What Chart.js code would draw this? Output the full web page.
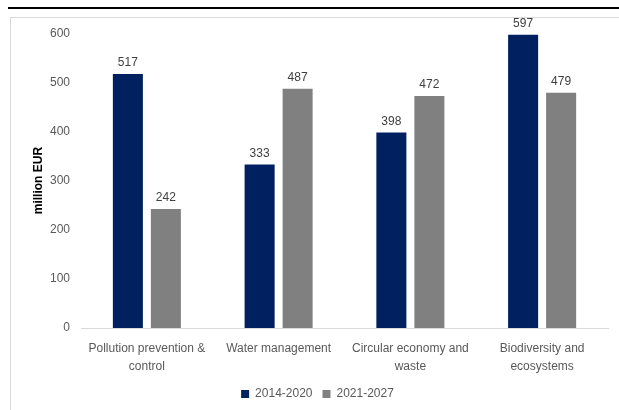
<!DOCTYPE html>
<html>
<head>
<meta charset="utf-8">
<script src="https://cdn.jsdelivr.net/npm/chart.js@4/dist/chart.umd.min.js"></script>
<style>
  html, body { margin: 0; background: #fff; width: 619px; height: 410px; overflow: hidden; }
  body { position: relative; }
  #topRule { position: absolute; left: 8px; width: 611px; top: 7px; height: 2px; background: #000; }
  #boxTop { position: absolute; left: 10px; width: 609px; top: 17px; height: 1px; background: #d9d9d9; }
  #boxLeft { position: absolute; left: 10px; width: 1px; top: 17px; height: 393px; background: #d9d9d9; }
  #wrap { position: absolute; left: 11px; top: 15px; width: 608px; height: 395px; }
</style>
</head>
<body>
<div id="topRule"></div>
<div id="boxTop"></div>
<div id="boxLeft"></div>
<div id="wrap"><canvas id="chart"></canvas></div>
<script>
// CHART DATA
const categories = [
  ["Pollution prevention &", "control"],
  ["Water management"],
  ["Circular economy and", "waste"],
  ["Biodiversity and", "ecosystems"]
];
const period1 = [517, 333, 398, 597];
const period2 = [242, 487, 472, 479];
const seriesNames = ["2014-2020", "2021-2027"];
const yTicks = [0, 100, 200, 300, 400, 500, 600];

Chart.defaults.font.family = "'Liberation Sans', Arial, sans-serif";
Chart.defaults.font.size = 12;
Chart.defaults.color = "#595959";

// value labels over each bar
const valueLabels = {
  id: "valueLabels",
  afterDatasetsDraw(chart) {
    const ctx = chart.ctx;
    ctx.save();
    ctx.font = "12px 'Liberation Sans', Arial, sans-serif";
    ctx.fillStyle = "#404040";
    ctx.textAlign = "center";
    ctx.textBaseline = "bottom";
    chart.data.datasets.forEach((ds, i) => {
      chart.getDatasetMeta(i).data.forEach((bar, j) => {
        ctx.fillText(ds.data[j], bar.x, bar.y - 5);
      });
    });
    ctx.restore();
  }
};

new Chart(document.getElementById("chart"), {
  type: "bar",
  data: {
    labels: categories,
    datasets: [{
      label: seriesNames[0],
      data: period1,
      backgroundColor: "#002060",
      categoryPercentage: 0.577,
      barPercentage: 0.79
    }, {
      label: seriesNames[1],
      data: period2,
      backgroundColor: "#808080",
      categoryPercentage: 0.577,
      barPercentage: 0.79
    }]
  },
  options: {
    responsive: true,
    maintainAspectRatio: false,
    animation: false,
    layout: { padding: { left: 16, top: 11, right: 11, bottom: 0 } },
    plugins: {
      tooltip: { enabled: false },
      legend: {
        position: "bottom",
        labels: { boxWidth: 8, boxHeight: 8, padding: 10, color: "#595959" }
      }
    },
    scales: {
      x: {
        afterFit: axis => { axis.height = 50; },
        grid: { display: false },
        border: { color: "#d9d9d9", width: 1 },
        ticks: { maxRotation: 0, autoSkip: false, padding: 4, font: { lineHeight: 1.5 } }
      },
      y: {
        min: 0,
        max: 600,
        afterBuildTicks: axis => { axis.ticks = yTicks.map(v => ({ value: v })); },
        afterFit: axis => { axis.width = 54; },
        grid: { display: false, drawTicks: false },
        border: { display: false },
        ticks: { padding: 11 },
        title: {
          display: true,
          text: "million EUR",
          color: "#000",
          font: { weight: "bold", size: 12 }
        }
      }
    }
  },
  plugins: [valueLabels]
});
</script>
</body>
</html>
